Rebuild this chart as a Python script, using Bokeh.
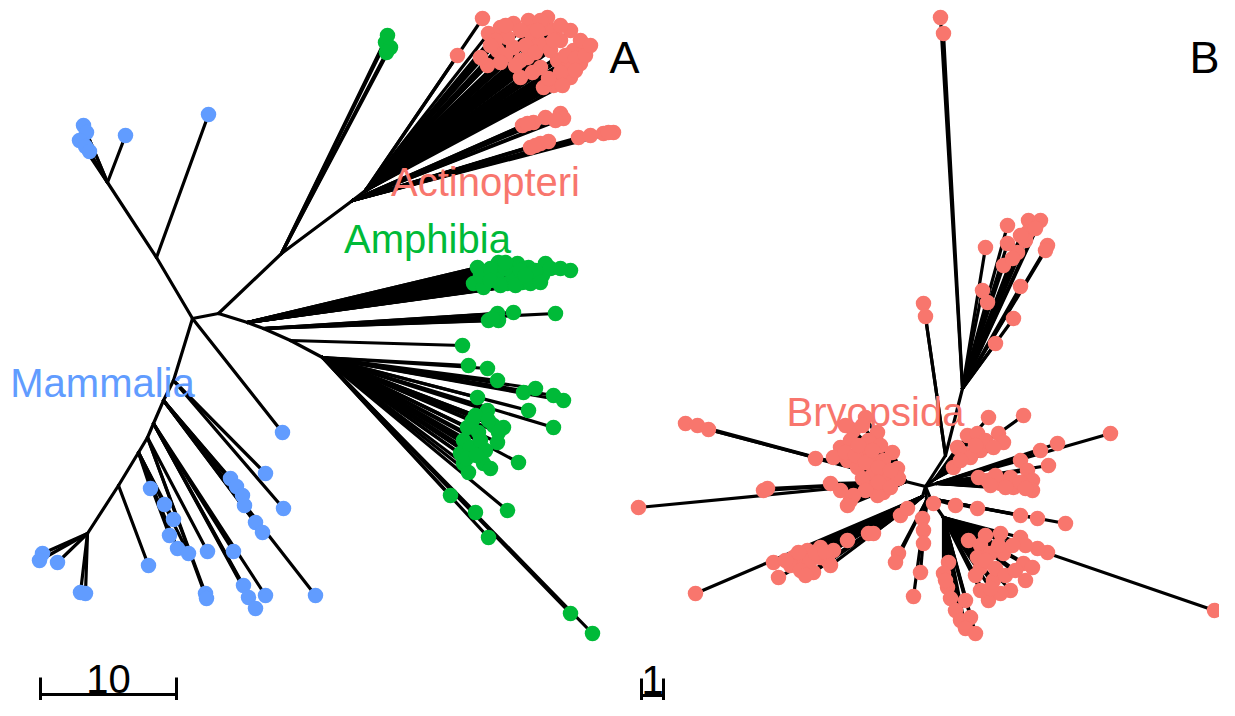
from bokeh.plotting import figure
from bokeh.models import Range1d
from bokeh.embed import file_html
from bokeh.resources import INLINE
from bokeh.core.properties import value

# ---------------- colours ----------------
COL_ACT = "#F8766D"   # Actinopteri / Bryopsida
COL_AMP = "#00BA38"   # Amphibia
COL_MAM = "#619CFF"   # Mammalia

# ---------------- Tree A (unrooted layout, screen coordinates) ----------------
# internal nodes: name -> (x, y, parent)
A_nodes = {
    "c0": (192, 318, None),
    "m1": (156, 257, "c0"),
    "m2": (107, 182, "m1"),
    "b1": (173, 380, "c0"),
    "b2": (163, 400, "b1"),
    "b3": (153, 423, "b2"),
    "b4": (147, 437, "b3"),
    "b5": (138, 452, "b4"),
    "b6": (118, 485, "b5"),
    "b7": (87, 533, "b6"),
    "a1": (218, 313, "c0"),
    "a2": (281, 253, "a1"),
    "a3": (352, 200, "a2"),
    "a4": (365, 190, "a3"),
    "a5": (247, 322, "a1"),
    "a6": (263, 328, "a5"),
    "a7": (290, 340, "a6"),
    "a8": (322, 357, "a7"),
}

mammalia_tips = {
    "m2": [(83, 125), (86, 132), (79, 140), (85, 146), (89, 151), (125, 135)],
    "m1": [(208, 114)],
    "c0": [(282, 432)],
    "b1": [(265, 473), (283, 508)],
    "b2": [(230, 478), (236, 486), (242, 495), (244, 505), (255, 522), (262, 532), (315, 595)],
    "b3": [(233, 551), (243, 585), (248, 597), (255, 608), (265, 595)],
    "b4": [(207, 551), (205, 593), (206, 598)],
    "b5": [(150, 488), (164, 504), (173, 519), (169, 535), (177, 548), (188, 553)],
    "b6": [(148, 565)],
    "b7": [(42, 553), (39, 560), (57, 562), (80, 592), (85, 593)],
}

amphibia_tips = {
    "a2": [(387, 35), (385, 42), (390, 47), (386, 52)],
    "a5": [(477, 267), (498, 262), (517, 263), (528, 267), (545, 263), (570, 270),
           (473, 283), (483, 287), (507, 283), (522, 282), (533, 277), (542, 275),
           (497, 273), (513, 273), (480, 275), (490, 268), (505, 268), (520, 270),
           (535, 270), (550, 268), (490, 280), (500, 285), (515, 285), (530, 283),
           (505, 262), (525, 275), (540, 282), (560, 268)],
    "a6": [(488, 320), (497, 313), (498, 320), (513, 312), (555, 313), (492, 318)],
    "a7": [(462, 345)],
    "a8": [(468, 365), (487, 368), (497, 380), (523, 392), (535, 388), (553, 395),
           (563, 400), (477, 397), (528, 410), (553, 427), (487, 410), (503, 427),
           (467, 427), (463, 440), (460, 453), (463, 463), (468, 472), (483, 463),
           (490, 468), (518, 462), (497, 442), (472, 420), (478, 432), (470, 447),
           (485, 450), (493, 425), (480, 440), (475, 415), (488, 420), (498, 432),
           (466, 458), (476, 455), (450, 495), (475, 512), (507, 510),
           (488, 537), (570, 613), (592, 633)],
}

actinopteri_tips = {
    "a4": [(482, 18), (457, 55), (488, 33), (500, 27), (513, 23), (528, 20), (547, 17),
           (543, 28), (560, 40), (573, 50), (585, 47), (580, 63), (570, 77), (553, 85),
           (543, 87), (520, 77), (487, 65), (480, 57), (497, 50), (513, 47), (527, 57),
           (540, 67), (557, 60), (507, 37), (537, 40), (553, 30), (567, 67), (530, 32),
           (520, 60), (560, 72), (495, 40), (505, 55), (515, 65), (525, 45), (535, 52),
           (545, 45), (550, 50), (565, 55), (575, 58), (580, 40), (570, 30), (560, 25),
           (540, 20), (520, 30), (505, 25), (490, 45), (500, 62), (532, 72), (548, 78),
           (562, 85), (575, 70), (585, 55), (590, 45), (553, 40), (537, 30)],
    "a3": [(522, 125), (533, 122), (560, 113), (563, 118), (527, 123), (545, 117),
           (555, 120), (530, 147), (540, 143), (578, 137), (603, 133), (613, 132),
           (535, 145), (548, 141), (590, 135), (608, 132)],
}

# ---------------- Tree B ----------------
B_nodes = {
    "cb": (925, 486, None),
    "u0": (945, 455, "cb"),
    "u2": (962, 388, "u0"),
    "l1": (905, 481, "cb"),
    "l2": (922, 496, "cb"),
    "l3": (926, 500, "cb"),
    "r1": (935, 478, "cb"),
    "r2": (936, 483, "cb"),
    "r3": (930, 498, "cb"),
    "r4": (943, 517, "r3"),
}

bryopsida_tips = {
    "u0": [(923, 303), (925, 316)],
    "u2": [(940, 17), (943, 33), (985, 247), (1007, 225), (1028, 220), (1040, 220),
           (1027, 232), (1025, 240), (1017, 252), (1007, 243), (1003, 265), (1047, 245),
           (1045, 250), (982, 290), (987, 302), (1020, 286), (1013, 318), (995, 343),
           (1035, 228), (1020, 235), (1012, 258)],
    "l1": [(685, 423), (697, 425), (708, 429), (815, 458), (865, 417), (853, 430),
           (877, 432), (840, 447), (850, 440), (860, 450), (833, 457), (847, 460),
           (857, 467), (870, 458), (892, 452), (883, 460), (897, 468), (873, 473),
           (887, 477), (898, 478), (872, 487), (883, 492), (877, 495), (845, 425),
           (862, 425), (868, 440), (880, 445), (845, 452), (855, 455), (865, 462),
           (878, 467), (890, 470), (862, 478), (878, 482), (865, 490), (890, 487),
           (858, 445), (872, 450), (638, 507), (763, 490), (767, 488), (830, 483),
           (840, 490), (850, 500), (853, 495), (847, 505)],
    "l2": [(695, 593), (773, 562), (778, 577), (793, 557), (807, 550), (820, 547),
           (833, 550), (827, 560), (813, 572), (803, 562), (820, 557), (847, 540),
           (868, 533), (873, 533), (900, 515), (907, 508), (790, 565), (810, 560),
           (798, 552), (815, 553), (825, 552), (800, 570), (805, 575), (830, 565),
           (785, 560)],
    "l3": [(922, 518), (923, 530), (923, 543), (920, 572), (913, 596), (898, 553),
           (895, 562)],
    "r1": [(988, 417), (1023, 415), (967, 435), (977, 433), (998, 433), (1003, 442),
           (957, 447), (963, 453), (980, 450), (953, 467), (970, 457), (985, 440),
           (993, 447), (975, 445), (960, 460)],
    "r2": [(1110, 433), (1057, 443), (1040, 450), (1048, 465), (1020, 460), (1027, 470),
           (978, 477), (987, 480), (1000, 483), (1013, 487), (1032, 480), (1032, 490),
           (1010, 477), (995, 475), (1005, 487), (1020, 482), (1025, 488), (990, 485)],
    "r3": [(933, 503), (955, 505), (977, 508), (1020, 515), (1037, 518), (1065, 523)],
    "r4": [(1214, 610), (1047, 552), (1037, 548), (968, 540), (980, 545), (1000, 533),
           (1020, 537), (1025, 545), (977, 557), (990, 553), (1003, 553), (1023, 563),
           (1032, 567), (980, 567), (993, 580), (1010, 590), (1025, 580), (988, 600),
           (980, 590), (1000, 593), (985, 560), (995, 568), (1005, 575), (1015, 570),
           (990, 588), (975, 575), (998, 545), (1012, 545), (985, 535),
           (948, 562), (943, 573), (947, 587), (950, 598), (945, 580), (955, 610),
           (960, 620), (965, 600), (970, 617), (965, 628), (975, 633)],
}

# clade labels
label_text = ["Actinopteri", "Amphibia", "Mammalia", "Bryopsida"]
label_x = [485, 427, 102, 875]
label_y = [181, 238, 382, 411]
label_col = [COL_ACT, COL_AMP, COL_MAM, COL_ACT]

# scale bars: length in branch units, pixels per unit, position
scale_len = [10, 1]
scale_px_per_unit = [13.6, 22.0]
scale_x0 = [40, 641]
scale_y = [694, 695]
scale_lab = ["10", "1"]

panel_lab = ["A", "B"]
panel_x = [624, 1204]
panel_y = [57, 57]

# ---------------- figure ----------------
W, H = 1219, 700
p = figure(width=W, height=H, output_backend="svg", toolbar_location=None,
           x_range=Range1d(0, W), y_range=Range1d(H, 0),
           x_axis_location=None, y_axis_location=None, min_border=0,
           tools="")
p.grid.visible = False
p.outline_line_color = None
p.background_fill_color = "white"
p.border_fill_color = "white"


def collect_edges(nodes, tipsets):
    x0, y0, x1, y1 = [], [], [], []
    for name, (x, y, par) in nodes.items():
        if par is not None:
            px, py, _ = nodes[par]
            x0.append(px); y0.append(py); x1.append(x); y1.append(y)
    for tips in tipsets:
        for par, pts in tips.items():
            px, py, _ = nodes[par]
            for (x, y) in pts:
                x0.append(px); y0.append(py); x1.append(x); y1.append(y)
    return x0, y0, x1, y1


for nodes, tipsets in [(A_nodes, [mammalia_tips, amphibia_tips, actinopteri_tips]),
                       (B_nodes, [bryopsida_tips])]:
    x0, y0, x1, y1 = collect_edges(nodes, tipsets)
    p.segment(x0=x0, y0=y0, x1=x1, y1=y1, line_color="black", line_width=3.2,
              line_cap="round")

for tips, col in [(mammalia_tips, COL_MAM), (amphibia_tips, COL_AMP),
                  (actinopteri_tips, COL_ACT), (bryopsida_tips, COL_ACT)]:
    xs = [x for pts in tips.values() for (x, _) in pts]
    ys = [y for pts in tips.values() for (_, y) in pts]
    p.scatter(x=xs, y=ys, size=15.5, fill_color=col, line_color=col, line_width=0)

p.text(x=label_x, y=label_y, text=label_text, text_color=label_col,
       text_font=value("Liberation Sans"), text_font_size=value("40px"),
       text_align="center", text_baseline="alphabetic")

p.text(x=panel_x, y=panel_y, text=panel_lab, text_color="black",
       text_font=value("Liberation Sans"), text_font_size=value("45px"),
       text_align="center", text_baseline="alphabetic")

# scale bars
for L, ppu, sx, sy, lab in zip(scale_len, scale_px_per_unit, scale_x0, scale_y, scale_lab):
    ex = sx + L * ppu
    p.segment(x0=[sx, sx, ex], y0=[sy, sy - 17, sy - 17], x1=[ex, sx, ex],
              y1=[sy, sy + 19, sy + 19], line_color="black", line_width=3)
    p.text(x=[(sx + ex) / 2], y=[sy - 16], text=[lab], text_color="black",
           text_font=value("Liberation Sans"), text_font_size=value("40px"),
           text_align="center", text_baseline="alphabetic")

open("out.html", "w").write(file_html(p, INLINE))
